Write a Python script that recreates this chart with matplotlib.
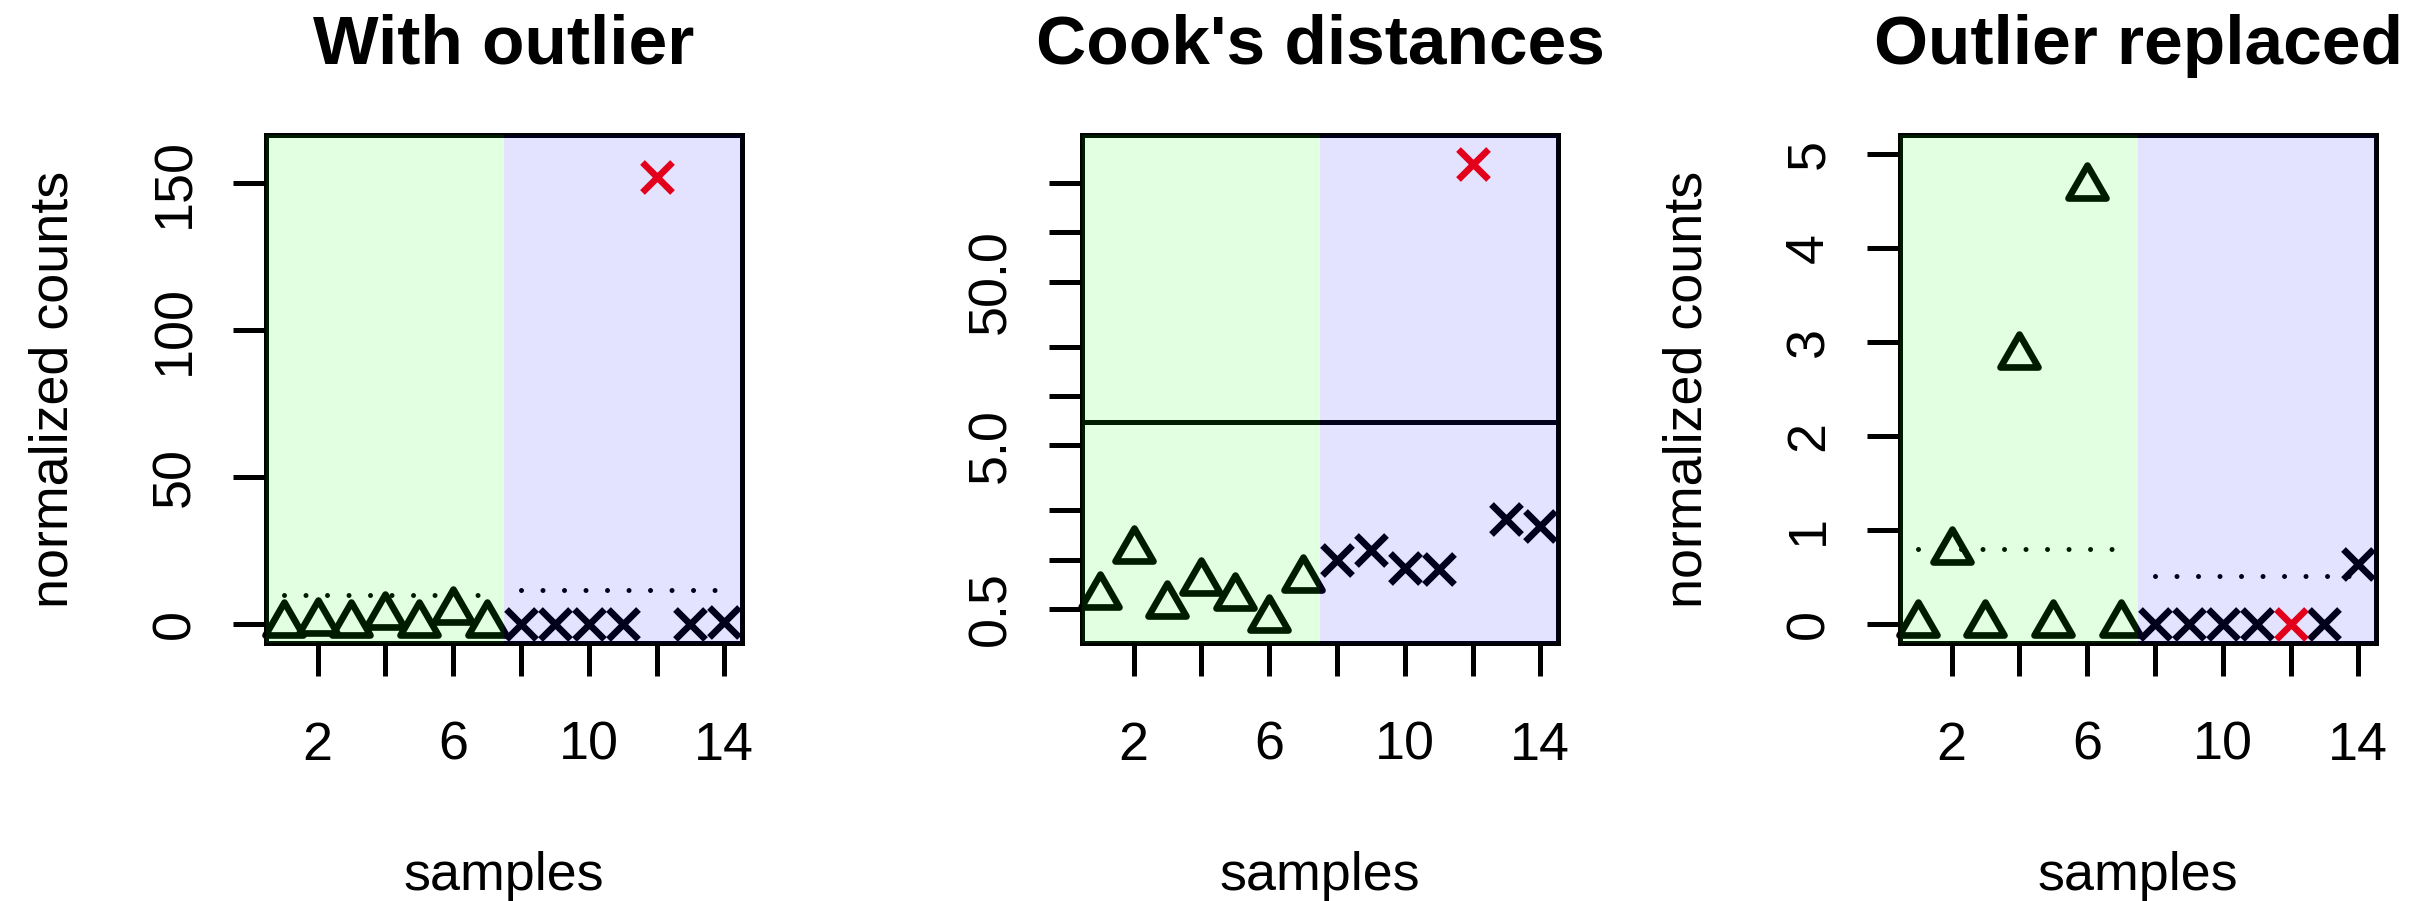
import numpy as np
import matplotlib
matplotlib.use("Agg")
import matplotlib.pyplot as plt
from matplotlib.path import Path
from matplotlib.ticker import NullLocator

plt.rcParams["font.family"] = ["Liberation Sans", "DejaVu Sans"]

# ---- data -------------------------------------------------------------
samples = np.arange(1, 15)
n_a = 7                  # samples 1..7 = condition A, 8..14 = condition B
outlier = 12

counts_with = [0, 0.78, 0, 2.85, 0, 4.65, 0,
               0, 0, 0, 0, 152, 0, 0.64]
cooks = [0.604, 1.145, 0.53, 0.73, 0.59, 0.435, 0.76,
         0.996, 1.15, 0.894, 0.88, 263, 1.77, 1.61]
counts_replaced = [0, 0.78, 0, 2.85, 0, 4.65, 0,
                   0, 0, 0, 0, 0, 0, 0.64]

fitted_with = [10.0, 11.7]          # group means, A / B
fitted_replaced = [0.80, 0.515]
cooks_cutoff = 6.93                 # qf(0.99, 2, 12)

titles = ["With outlier", "Cook's distances", "Outlier replaced"]
ylabels = ["normalized counts", "", "normalized counts"]

# ---- styling ----------------------------------------------------------
DPI = 200
fig = plt.figure(figsize=(2424 / DPI, 901 / DPI), dpi=DPI)

LW = 1.8
MW = 2.4
TXT = 19.4
tri = Path([(0, 1.555), (1.347, -0.778), (-1.347, -0.778), (0, 1.555)],
           [Path.MOVETO, Path.LINETO, Path.LINETO, Path.CLOSEPOLY])

lefts = [266 / 2424, 1082 / 2424, 1900 / 2424]
width = 476 / 2424
bottom = 1 - 643 / 901
height = (643 - 135) / 901

xlim = (0.48, 14.52)
ylims = [(-6.4, 166.4), (0.31, 393), (-0.2, 5.2)]


def draw_points(ax, y):
    y = np.asarray(y, dtype=float)
    a = samples <= n_a
    b = ~a & (samples != outlier)
    ax.plot(samples[a], y[a], ls="none", marker=tri, ms=15.8,
            mfc="none", mec="black", mew=MW, zorder=3, clip_on=False)
    ax.plot(samples[b], y[b], ls="none", marker="x", ms=11,
            mec="black", mew=MW, zorder=3, clip_on=False)
    i = samples == outlier
    ax.plot(samples[i], y[i], ls="none", marker="x", ms=11,
            mec="red", mew=MW, zorder=3)


def group_lines(ax, means):
    dots = dict(color="black", lw=1.8, ls=(0, (0.001, 4.3)),
                dash_capstyle="round", zorder=3)
    ax.plot([1, n_a], [means[0]] * 2, **dots)
    ax.plot([n_a + 1, 14], [means[1]] * 2, **dots)


axes = []
for k in range(3):
    ax = fig.add_axes([lefts[k], bottom, width, height])
    axes.append(ax)
    ax.set_xlim(*xlim)
    for s in ax.spines.values():
        s.set_linewidth(LW)
    ax.tick_params(length=11.9, width=LW, labelsize=TXT)
    ax.tick_params(axis="x", pad=16.0)
    ax.tick_params(axis="y", pad=11.8)
    ax.set_xticks([2, 4, 6, 8, 10, 12, 14])
    ax.set_xticklabels(["2", "", "6", "", "10", "", "14"])
    ax.set_title(titles[k], fontsize=25, fontweight="bold", pad=25.6)
    ax.set_xlabel("samples", fontsize=TXT, va="baseline")
    ax.xaxis.set_label_coords(0.5, (643 - 890) / 508)
    if ylabels[k]:
        ax.set_ylabel(ylabels[k], fontsize=TXT, va="baseline")
        ax.yaxis.set_label_coords((68 - 266) / 476, 0.5)

# panel 1: raw counts with the outlier
ax = axes[0]
draw_points(ax, counts_with)
group_lines(ax, fitted_with)
ax.set_yticks([0, 50, 100, 150])

# panel 2: Cook's distances on a log axis
ax = axes[1]
ax.set_yscale("log")
draw_points(ax, cooks)
ax.axhline(cooks_cutoff, color="black", lw=LW, zorder=3)
ax.set_yticks([0.5, 1, 2, 5, 10, 20, 50, 100, 200])
ax.set_yticklabels(["0.5", "", "", "5.0", "", "", "50.0", "", ""])
ax.yaxis.set_minor_locator(NullLocator())

# panel 3: counts after replacement
ax = axes[2]
draw_points(ax, counts_replaced)
group_lines(ax, fitted_replaced)
ax.set_yticks([0, 1, 2, 3, 4, 5])

for ax, yl in zip(axes, ylims):
    ax.set_ylim(*yl)
    plt.setp(ax.get_yticklabels(), rotation=90, va="center")
    # translucent condition shading laid over the marks
    ax.axvspan(xlim[0], 7.5, color="#00FF00", alpha=0.115, lw=0, zorder=5)
    ax.axvspan(7.5, xlim[1], color="#0000FF", alpha=0.11, lw=0, zorder=5)

fig.savefig("out.png", dpi=DPI)
